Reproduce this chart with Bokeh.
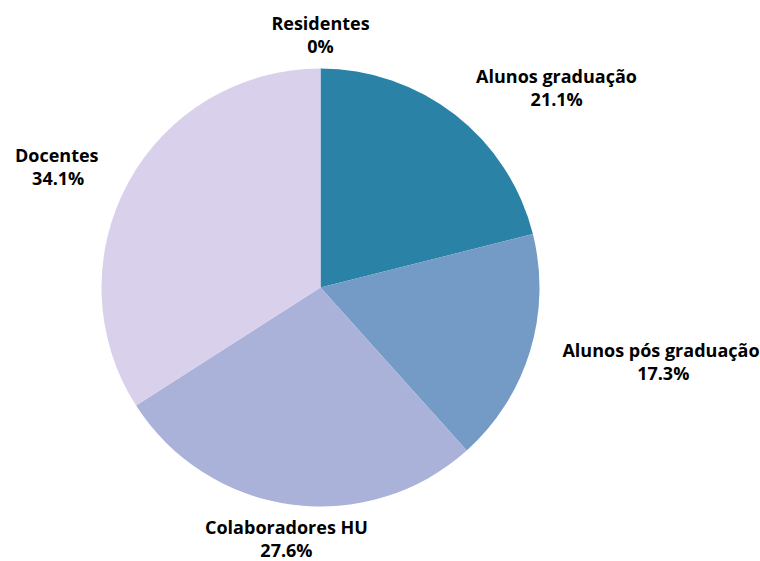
import math
from bokeh.plotting import figure
from bokeh.models import ColumnDataSource, Range1d
from bokeh.core.properties import value
from bokeh.embed import file_html
from bokeh.resources import INLINE

categories = ["Alunos graduação", "Alunos pós graduação", "Colaboradores HU", "Docentes", "Residentes"]
percents = [21.1, 17.3, 27.6, 34.1, 0.0]
pct_labels = ["21.1%", "17.3%", "27.6%", "34.1%", "0%"]
colors = ["#2A82A6", "#739BC5", "#AAB2D9", "#D9D0EC", "#C9C9C9"]

W, H = 760, 561
cx, cy = 320, H - 287
R = 219
R_LABEL = 253
FONT_PX = 18
LINE_GAP = 11.5

total = sum(percents)
starts, ends, mids = [], [], []
acc = 0.0
for v in percents:
    a0 = acc / total * 2 * math.pi
    acc += v
    a1 = acc / total * 2 * math.pi
    starts.append(math.pi / 2 - a0)
    ends.append(math.pi / 2 - a1)
    mids.append((a0 + a1) / 2)

p = figure(width=W, height=H, x_range=Range1d(0, W), y_range=Range1d(0, H),
           x_axis_type=None, y_axis_type=None, min_border=0,
           toolbar_location=None, output_backend="svg")
p.grid.visible = False
p.outline_line_color = None
p.background_fill_color = "white"
p.border_fill_color = "white"

keep = [i for i, v in enumerate(percents) if v > 0]
src = ColumnDataSource(dict(x=[cx] * len(keep), y=[cy] * len(keep),
                            start=[starts[i] for i in keep], end=[ends[i] for i in keep],
                            color=[colors[i] for i in keep]))
p.wedge(x="x", y="y", radius=R, start_angle="start", end_angle="end",
        direction="clock", fill_color="color", line_color=None, source=src)

name_x, name_y, name_align, pct_x, pct_y = [], [], [], [], []
for cat, m in zip(categories, mids):
    s, c = math.sin(m), math.cos(m)
    ax = cx + R_LABEL * s
    ay = cy + R_LABEL * c
    w = len(cat) * 0.56 * FONT_PX
    if s > 0.3:
        align, center = "left", ax + w / 2
    elif s < -0.3:
        align, center = "right", ax - w / 2
    else:
        align, center = "center", ax
    name_x.append(ax)
    name_y.append(ay + LINE_GAP)
    name_align.append(align)
    pct_x.append(center)
    pct_y.append(ay - LINE_GAP)

lab = ColumnDataSource(dict(nx=name_x, ny=name_y, na=name_align, name=categories,
                            px=pct_x, py=pct_y, pct=pct_labels))
p.text(x="nx", y="ny", text="name", text_align="na", text_baseline="middle",
       text_font=value("Open Sans"), text_font_style="bold",
       text_font_size=f"{FONT_PX}px", text_color="#000000", source=lab)
p.text(x="px", y="py", text="pct", text_align="center", text_baseline="middle",
       text_font=value("Open Sans"), text_font_style="bold",
       text_font_size=f"{FONT_PX}px", text_color="#000000", source=lab)

open("out.html", "w").write(file_html(p, INLINE))
